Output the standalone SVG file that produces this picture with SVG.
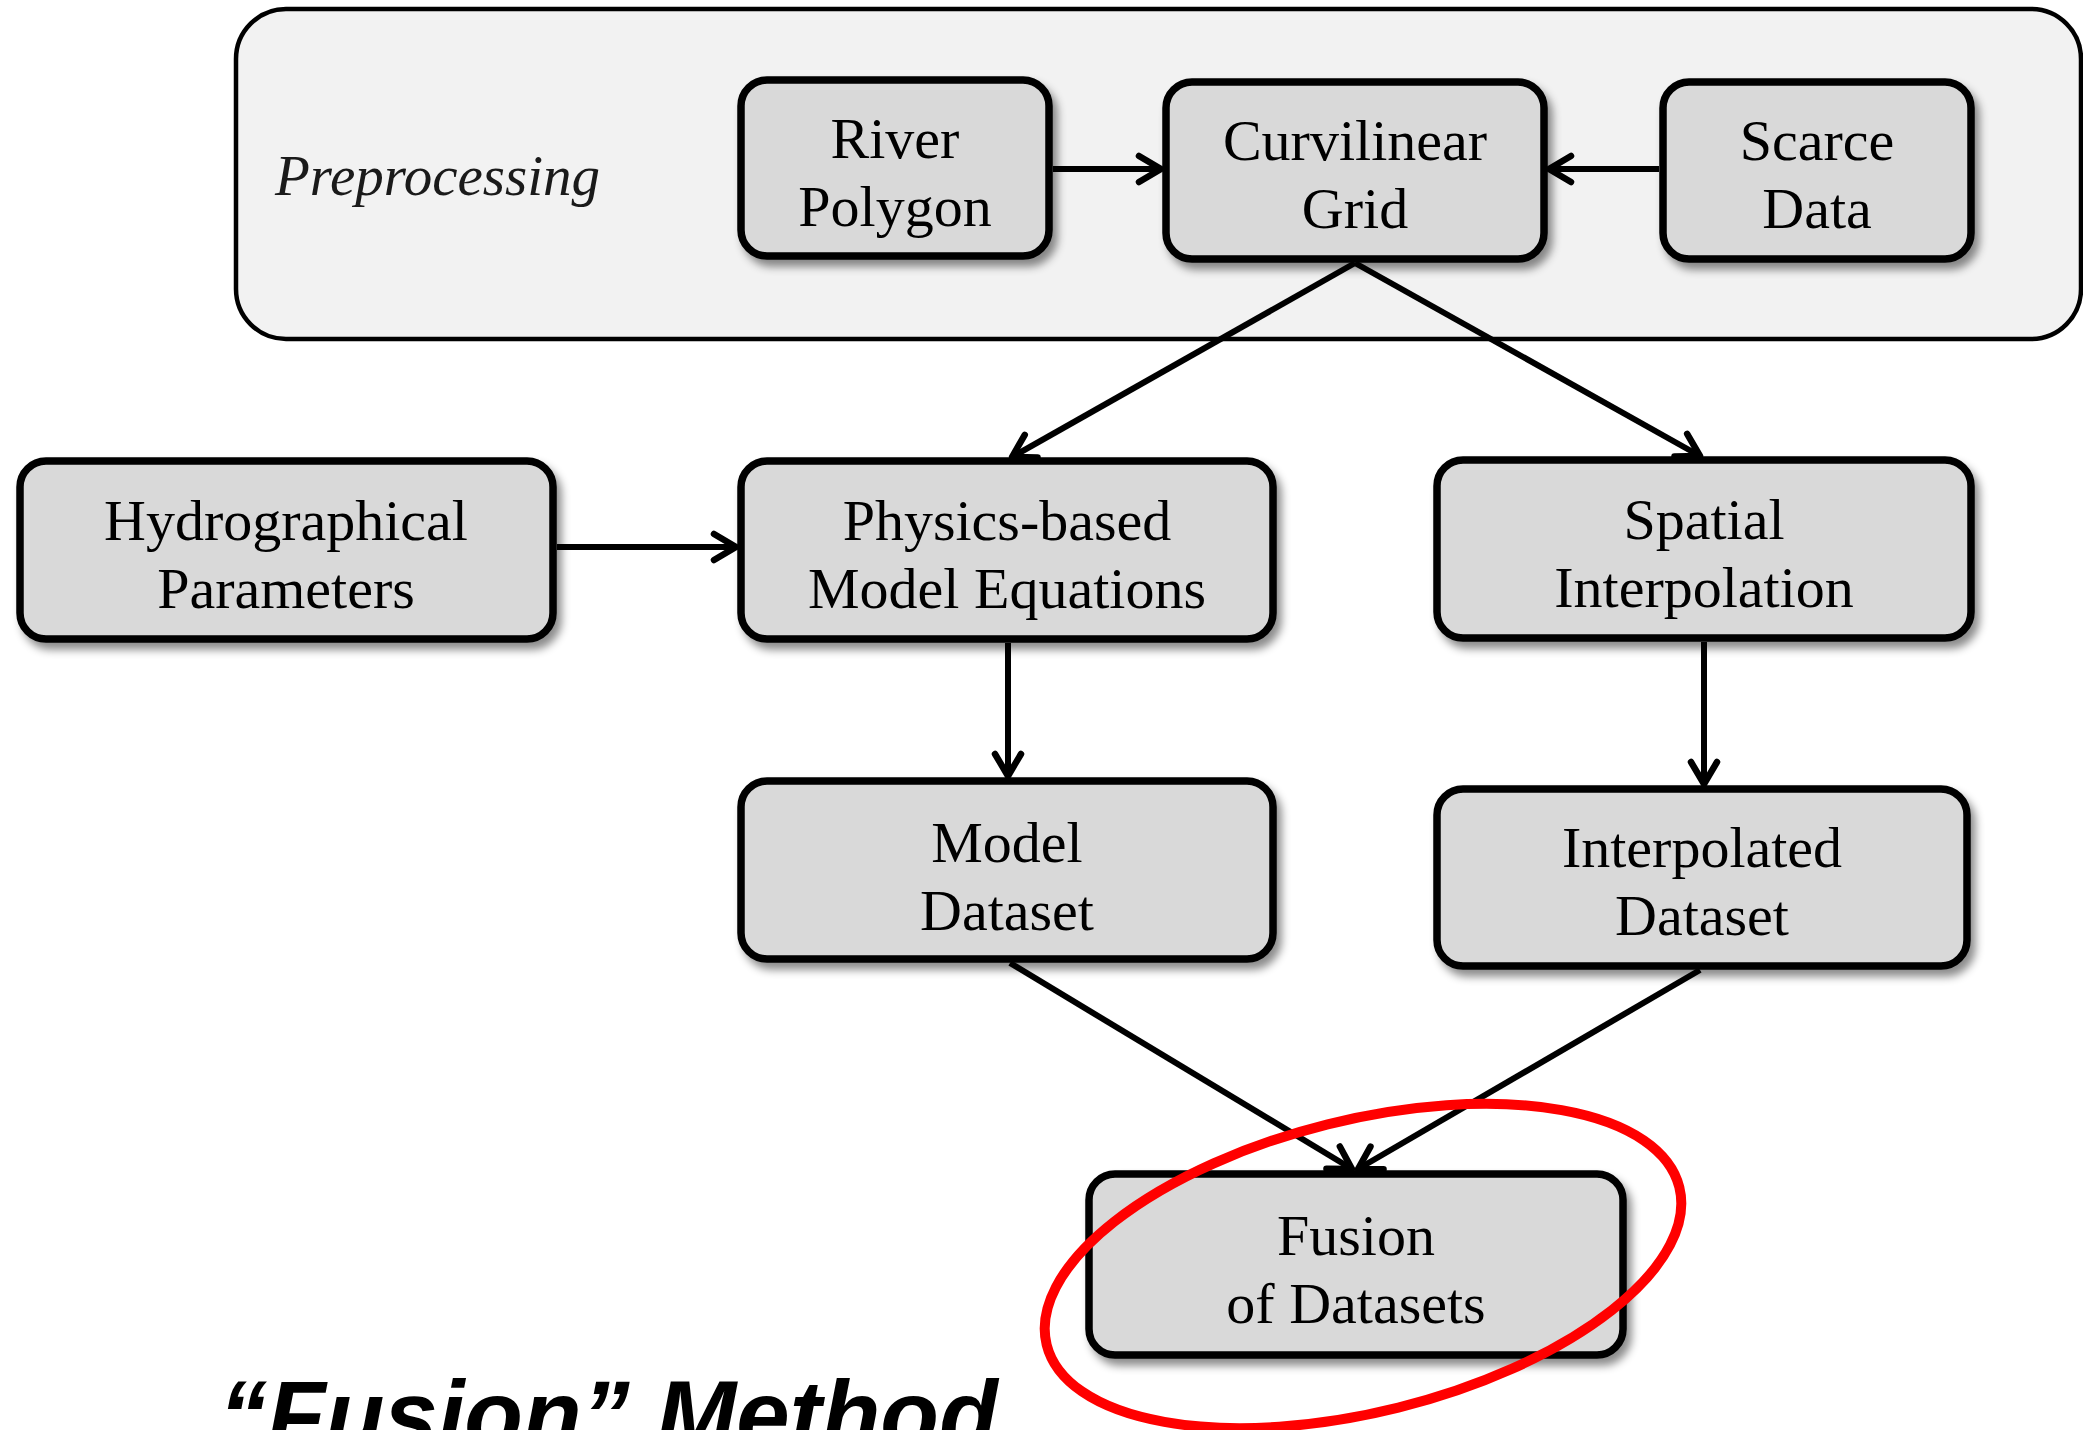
<svg xmlns="http://www.w3.org/2000/svg" width="2083" height="1430" viewBox="0 0 2083 1430">
  <defs>
    <filter id="shadow" x="-10%" y="-10%" width="125%" height="130%">
      <feDropShadow dx="5" dy="7" stdDeviation="4" flood-color="#000" flood-opacity="0.45"/>
    </filter>
    <marker id="arr" viewBox="-30 -20 40 40" markerWidth="40" markerHeight="40" refX="0" refY="0" orient="auto" markerUnits="userSpaceOnUse">
      <path d="M-22,-13 L0,0 L-22,13" fill="none" stroke="#000" stroke-width="6.5" stroke-linecap="round" stroke-linejoin="round"/>
    </marker>
    <style>
      .box { fill: #d9d9d9; stroke: #000; stroke-width: 7.5; filter: url(#shadow); }
      .lbl { font-family: "Liberation Serif", "Times New Roman", serif; font-size: 58px; fill: #000; text-anchor: middle; }
      .conn { stroke: #000; stroke-width: 6; fill: none; marker-end: url(#arr); }
    </style>
  </defs>
  <rect width="2083" height="1430" fill="#fff"/>

  <g id="preprocessing">
    <rect x="236" y="9" width="1845" height="330" rx="50" ry="50" fill="#f2f2f2" stroke="#000" stroke-width="4.5"/>
    <text x="275" y="195" font-family="'Liberation Serif', 'Times New Roman', serif" font-style="italic" font-size="57" fill="#1a1a1a">Preprocessing</text>
  </g>

  <g id="river-polygon">
    <rect class="box" x="741" y="80" width="308" height="176" rx="26"/>
    <text class="lbl" x="895" y="158">River</text>
    <text class="lbl" x="895" y="226">Polygon</text>
  </g>
  <g id="curvilinear-grid">
    <rect class="box" x="1166" y="82" width="378" height="177" rx="26"/>
    <text class="lbl" x="1355" y="160">Curvilinear</text>
    <text class="lbl" x="1355" y="228">Grid</text>
  </g>
  <g id="scarce-data">
    <rect class="box" x="1663" y="82" width="308" height="177" rx="26"/>
    <text class="lbl" x="1817" y="160">Scarce</text>
    <text class="lbl" x="1817" y="228">Data</text>
  </g>
  <g id="hydrographical-parameters">
    <rect class="box" x="20" y="461" width="533" height="178" rx="26"/>
    <text class="lbl" x="286" y="540">Hydrographical</text>
    <text class="lbl" x="286" y="608">Parameters</text>
  </g>
  <g id="physics-based">
    <rect class="box" x="741" y="461" width="532" height="178" rx="26"/>
    <text class="lbl" x="1007" y="540">Physics-based</text>
    <text class="lbl" x="1007" y="608">Model Equations</text>
  </g>
  <g id="spatial-interpolation">
    <rect class="box" x="1437" y="460" width="534" height="178" rx="26"/>
    <text class="lbl" x="1704" y="539">Spatial</text>
    <text class="lbl" x="1704" y="607">Interpolation</text>
  </g>
  <g id="model-dataset">
    <rect class="box" x="741" y="781" width="532" height="178" rx="26"/>
    <text class="lbl" x="1007" y="862">Model</text>
    <text class="lbl" x="1007" y="930">Dataset</text>
  </g>
  <g id="interpolated-dataset">
    <rect class="box" x="1437" y="789" width="530" height="177" rx="26"/>
    <text class="lbl" x="1702" y="867">Interpolated</text>
    <text class="lbl" x="1702" y="935">Dataset</text>
  </g>
  <g id="fusion-of-datasets">
    <rect class="box" x="1089" y="1174" width="534" height="181" rx="26"/>
    <text class="lbl" x="1356" y="1255">Fusion</text>
    <text class="lbl" x="1356" y="1323">of Datasets</text>
  </g>

  <g id="connectors">
    <line class="conn" x1="1053" y1="169" x2="1161" y2="169"/>
    <line class="conn" x1="1659" y1="169" x2="1549" y2="169"/>
    <line class="conn" x1="1355" y1="263" x2="1012" y2="457"/>
    <line class="conn" x1="1355" y1="263" x2="1700" y2="456"/>
    <line class="conn" x1="557" y1="547" x2="736" y2="547"/>
    <line class="conn" x1="1008" y1="643" x2="1008" y2="776"/>
    <line class="conn" x1="1704" y1="642" x2="1704" y2="784"/>
    <line class="conn" x1="1010" y1="963" x2="1352" y2="1169"/>
    <line class="conn" x1="1700" y1="970" x2="1358" y2="1169"/>
  </g>

  <ellipse id="highlight" cx="1363" cy="1266" rx="326" ry="146" transform="rotate(-14 1363 1266)" fill="none" stroke="#ff0000" stroke-width="10"/>

  <text id="title" x="219" y="1448" font-family="'Liberation Sans', Arial, sans-serif" font-weight="bold" font-style="italic" font-size="96" fill="#000">“Fusion” Method</text>
</svg>
